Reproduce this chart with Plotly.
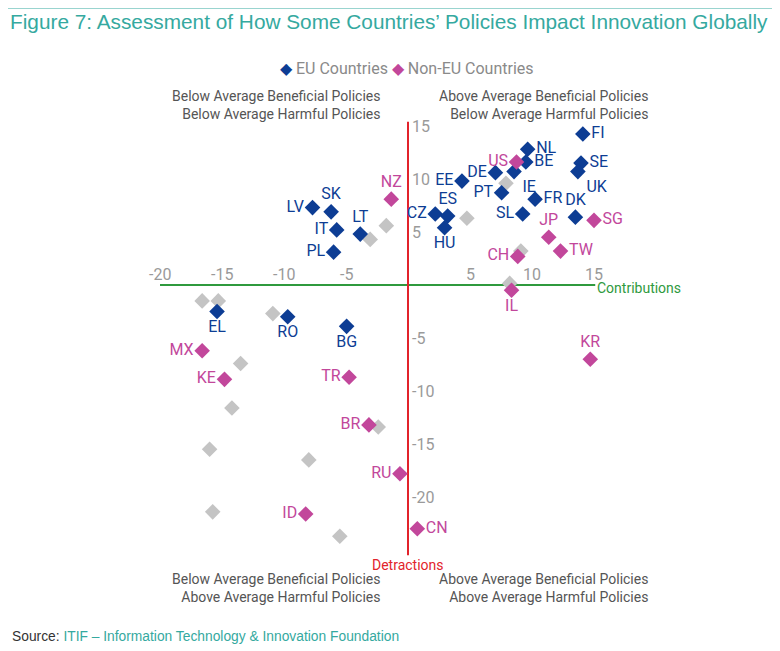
import plotly.graph_objects as go

# EU countries
eu_codes = ["FI", "NL", "BE", "IE", "DE", "EE", "PT", "FR", "SL", "DK", "SE", "UK",
            "CZ", "ES", "HU", "LV", "SK", "IT", "LT", "PL", "EL", "RO", "BG"]
eu_x = [14.1, 9.65, 9.5, 8.55, 7.05, 4.35, 7.55, 10.25, 9.25, 13.5, 13.95, 13.7,
        2.2, 3.2, 2.95, -7.7, -6.2, -5.75, -3.85, -6.0, -15.4, -9.7, -4.95]
eu_y = [14.25, 12.8, 11.6, 10.7, 10.6, 9.8, 8.7, 8.1, 6.7, 6.4, 11.5, 10.7,
        6.7, 6.5, 5.4, 7.3, 6.9, 5.2, 4.8, 3.1, -2.5, -3.0, -3.9]
eu_pos = ["middle right", "middle right", "middle right", "bottom right", "middle left",
          "middle left", "middle left", "middle right", "middle left", "top center",
          "middle right", "bottom right", "middle left", "top center", "bottom center",
          "middle left", "top center", "middle left", "top center", "middle left",
          "bottom center", "bottom center", "bottom center"]

# Non-EU countries
non_codes = ["US", "NZ", "JP", "TW", "SG", "CH", "IL", "KR", "MX", "KE", "TR", "BR",
             "RU", "ID", "CN"]
non_x = [8.75, -1.35, 11.35, 12.3, 15.0, 8.85, 8.35, 14.7, -16.6, -14.8, -4.75, -3.15,
         -0.65, -8.25, 0.75]
non_y = [11.6, 8.1, 4.5, 3.2, 6.1, 2.7, -0.5, -7.0, -6.2, -8.9, -8.7, -13.2,
         -17.8, -21.6, -23.0]
non_pos = ["middle left", "top center", "top center", "middle right", "middle right",
           "middle left", "bottom center", "top center", "middle left", "middle left",
           "middle left", "middle left", "middle left", "middle left", "middle right"]

# unlabelled (grey) points
grey_x = [7.9, 4.75, 9.1, 8.2, -1.75, -3.05, -16.6, -15.3, -10.9, -13.5, -14.2,
          -2.4, -16.0, -8.0, -15.75, -5.5]
grey_y = [9.6, 6.3, 3.2, 0.15, 5.6, 4.3, -1.5, -1.5, -2.7, -7.4, -11.6,
          -13.4, -15.5, -16.5, -21.4, -23.7]

x_ticks = [-20, -15, -10, -5, 5, 10, 15]
y_ticks = [15, 10, 5, -5, -10, -15, -20]

BLUE = "#0d3d94"
PINK = "#c2479b"
GREY = "#c4c4c4"
GREEN = "#2f9a3e"
RED = "#e2232b"
TEAL = "#35a9a0"
NARROW = "Roboto, sans-serif"

W, H = 772, 643  # page has an 8px body margin


def px(x, y):
    # screen pixel -> paper coordinates
    return (x - 8) / W, 1 - (y - 8) / H


fig = go.Figure()

fig.add_trace(go.Scatter(
    x=grey_x, y=grey_y, mode="markers", showlegend=False, hoverinfo="skip",
    marker=dict(symbol="diamond", size=12, color=GREY)))

fig.add_trace(go.Scatter(
    x=eu_x, y=eu_y, text=eu_codes, textposition=eu_pos, mode="markers+text",
    name="EU Countries", showlegend=False,
    marker=dict(symbol="diamond", size=12, color=BLUE),
    textfont=dict(family=NARROW, size=16, color=BLUE)))

fig.add_trace(go.Scatter(
    x=non_x, y=non_y, text=non_codes, textposition=non_pos, mode="markers+text",
    name="Non-EU Countries", showlegend=False,
    marker=dict(symbol="diamond", size=12, color=PINK),
    textfont=dict(family=NARROW, size=16, color=PINK)))

# axis lines through the origin
fig.add_shape(type="line", x0=-20, x1=15.1, y0=0, y1=0, xref="x", yref="y",
              line=dict(color=GREEN, width=2), layer="below")
fig.add_shape(type="line", x0=0, x1=0, y0=15.4, y1=-25.5, xref="x", yref="y",
              line=dict(color=RED, width=2), layer="below")

for t in x_ticks:
    fig.add_annotation(x=t, y=0, text=str(t), showarrow=False, yshift=11,
                       font=dict(family=NARROW, size=16, color="#9a9a9a"))
for t in y_ticks:
    fig.add_annotation(x=0, y=t, text=str(t), showarrow=False, xanchor="left", xshift=2,
                       font=dict(family=NARROW, size=16, color="#9a9a9a"))

fig.add_annotation(x=15.1, y=0, text="Contributions", showarrow=False, xanchor="left",
                   yshift=-3, font=dict(family=NARROW, size=14, color=GREEN))
fig.add_annotation(x=0, y=-25.5, text="Detractions", showarrow=False, yanchor="top",
                   font=dict(family=NARROW, size=14, color=RED))

# legend
lx, ly = px(407, 68)
fig.add_annotation(x=lx, y=ly, xref="paper", yref="paper", showarrow=False,
                   xanchor="center", yanchor="middle",
                   text="<span style='color:" + BLUE + "'>◆</span> EU Countries "
                        "<span style='color:" + PINK + "'>◆</span> Non-EU Countries",
                   font=dict(family=NARROW, size=16, color="#8a8a8a"))

# quadrant labels
quad = dict(family=NARROW, size=14, color="#555555")
quad_text = [
    (382, 105, "Below Average Beneficial Policies<br>Below Average Harmful Policies"),
    (650, 105, "Above Average Beneficial Policies<br>Below Average Harmful Policies"),
    (382, 588, "Below Average Beneficial Policies<br>Above Average Harmful Policies"),
    (650, 588, "Above Average Beneficial Policies<br>Above Average Harmful Policies"),
]
for qx, qy, qt in quad_text:
    ax_, ay_ = px(qx, qy)
    fig.add_annotation(x=ax_, y=ay_, xref="paper", yref="paper", text=qt,
                       showarrow=False, xanchor="right", yanchor="middle",
                       align="right", font=quad)

# title, rule and source
r0x, r0y = px(8, 8)
fig.add_shape(type="line", x0=r0x, x1=1, y0=r0y, y1=r0y,
              xref="paper", yref="paper", line=dict(color=TEAL, width=1))
tx, ty = px(8, 22)
fig.add_annotation(x=tx, y=ty, xref="paper", yref="paper",
                   text="Figure 7: Assessment of How Some Countries’ Policies Impact Innovation Globally",
                   showarrow=False, xanchor="left", yanchor="middle",
                   font=dict(family="Liberation Sans, Arial", size=20.8, color=TEAL))
sx, sy = px(10, 636)
fig.add_annotation(x=sx, y=sy, xref="paper", yref="paper",
                   text="Source: <span style='color:" + TEAL + "'>ITIF – Information Technology &amp; Innovation Foundation</span>",
                   showarrow=False, xanchor="left", yanchor="middle",
                   font=dict(family="Liberation Sans, Arial", size=13.8, color="#333333"))

# data scale: screen x = 408 + 12.4*x, screen y = 285 - 10.6*y
fig.update_xaxes(range=[(8 - 408) / 12.4, (8 + W - 408) / 12.4], visible=False)
fig.update_yaxes(range=[(285 - 8 - H) / 10.6, (285 - 8) / 10.6], visible=False)
fig.update_layout(
    width=W, height=H,
    margin=dict(l=0, r=0, t=0, b=0),
    plot_bgcolor="white", paper_bgcolor="white",
    showlegend=False,
)

fig.write_html("out.html")
